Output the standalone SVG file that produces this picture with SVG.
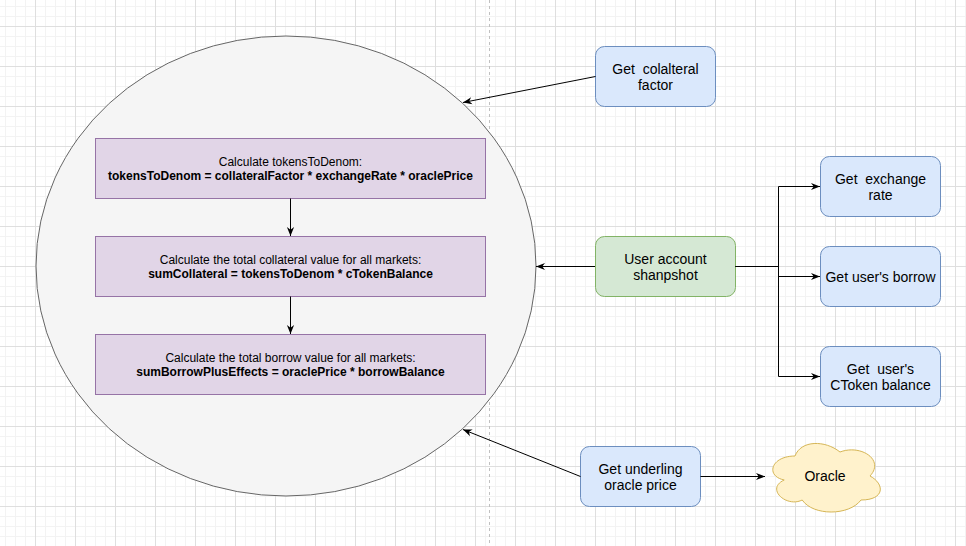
<svg xmlns="http://www.w3.org/2000/svg" width="966" height="546" viewBox="0 0 966 546">
<style>
.t{font-family:"Liberation Sans",Arial,Helvetica,sans-serif;fill:#000;text-anchor:middle}
.s12{font-size:12px}
.s14{font-size:14px}
.b{font-weight:bold}
.purple{fill:#e1d5e7;stroke:#9673a6;stroke-width:1}
.blue{fill:#dae8fc;stroke:#6c8ebf;stroke-width:1}
.green{fill:#d5e8d4;stroke:#82b366;stroke-width:1}
.edge{fill:none;stroke:#000;stroke-width:1;marker-end:url(#arr)}
</style>
<defs>
<pattern id="grid" x="35" y="26" width="40" height="40" patternUnits="userSpaceOnUse">
<path d="M10.5,0V40M20.5,0V40M30.5,0V40M0,10.5H40M0,20.5H40M0,30.5H40" stroke="#f3f3f3" stroke-width="1" fill="none"/>
<path d="M0.5,0V40M0,0.5H40" stroke="#dfdfdf" stroke-width="1" fill="none"/>
</pattern>
<marker id="arr" markerUnits="userSpaceOnUse" viewBox="0 0 10 10" markerWidth="9" markerHeight="9" refX="10" refY="5" orient="auto">
<path d="M0,1 L10,5 L0,9 L3,5 Z" fill="#000"/>
</marker>
</defs>
<rect width="966" height="546" fill="#fff"/>
<rect width="966" height="546" fill="url(#grid)"/>
<line x1="489.5" y1="0" x2="489.5" y2="546" stroke="#c0c0c0" stroke-width="1" stroke-dasharray="3,3"/>

<g id="calc-ellipse">
<ellipse cx="286" cy="266" rx="250" ry="230" fill="#f5f5f5" stroke="#666666" stroke-width="1"/>
</g>

<g id="tokens-to-denom">
<rect class="purple" x="95.5" y="138.5" width="390" height="60"/>
<text class="t s12" x="290.5" y="165.5">Calculate tokensToDenom:</text>
<text class="t s12 b" x="290.5" y="180">tokensToDenom = collateralFactor * exchangeRate * oraclePrice</text>
</g>

<g id="sum-collateral">
<rect class="purple" x="95.5" y="236.5" width="390" height="60"/>
<text class="t s12" x="290.5" y="263.5">Calculate the total collateral value for all markets:</text>
<text class="t s12 b" x="290.5" y="278">sumCollateral = tokensToDenom * cTokenBalance</text>
</g>

<g id="sum-borrow">
<rect class="purple" x="95.5" y="334.5" width="390" height="60"/>
<text class="t s12" x="290.5" y="361.5">Calculate the total borrow value for all markets:</text>
<text class="t s12 b" x="290.5" y="376">sumBorrowPlusEffects = oraclePrice * borrowBalance</text>
</g>

<g id="collateral-factor">
<rect class="blue" x="595.5" y="46.5" width="120" height="60" rx="9" ry="9"/>
<text class="t s14" x="655.5" y="73.5" xml:space="preserve">Get  colalteral</text>
<text class="t s14" x="655.5" y="90">factor</text>
</g>

<g id="user-account">
<rect class="green" x="595.5" y="236.5" width="140" height="60" rx="9" ry="9"/>
<text class="t s14" x="665.5" y="263.5">User account</text>
<text class="t s14" x="665.5" y="280">shanpshot</text>
</g>

<g id="exchange-rate">
<rect class="blue" x="820.5" y="156.5" width="120" height="60" rx="9" ry="9"/>
<text class="t s14" x="880.5" y="183.5" xml:space="preserve">Get  exchange</text>
<text class="t s14" x="880.5" y="200">rate</text>
</g>

<g id="user-borrow">
<rect class="blue" x="820.5" y="246.5" width="120" height="60" rx="9" ry="9"/>
<text class="t s14" x="880.5" y="281.5">Get user's borrow</text>
</g>

<g id="ctoken-balance">
<rect class="blue" x="820.5" y="346.5" width="120" height="60" rx="9" ry="9"/>
<text class="t s14" x="880.5" y="373.5" xml:space="preserve">Get  user's</text>
<text class="t s14" x="880.5" y="390">CToken balance</text>
</g>

<g id="oracle-price">
<rect class="blue" x="580.5" y="446.5" width="120" height="60" rx="9" ry="9"/>
<text class="t s14" x="640.5" y="473.5">Get underling</text>
<text class="t s14" x="640.5" y="490">oracle price</text>
</g>

<g id="oracle">
<path d="M795,456 C771,456 765,476 784.2,480 C765,488.8 786.6,508 802.2,500 C813,516 849,516 861,500 C885,500 885,484 870,476 C885,460 861,444 840,452 C825,440 801,440 795,456 Z" fill="#fff2cc" stroke="#d6b656" stroke-width="1"/>
<text class="t s14" x="825" y="481">Oracle</text>
</g>

<g id="connectors">
<path class="edge" d="M290.5,198.5 V236"/>
<path class="edge" d="M290.5,296.5 V334"/>
<path class="edge" d="M595.5,76.5 L463,102.5"/>
<path class="edge" d="M595,266.5 H536"/>
<path class="edge" d="M735.5,266.5 H778.5 V186.5 H820"/>
<path class="edge" d="M735.5,266.5 H778.5 V276.5 H820"/>
<path class="edge" d="M735.5,266.5 H778.5 V376.5 H820"/>
<path class="edge" d="M580.5,476.5 L463,429.5"/>
<path class="edge" d="M700.5,476.5 H765"/>
</g>
</svg>
